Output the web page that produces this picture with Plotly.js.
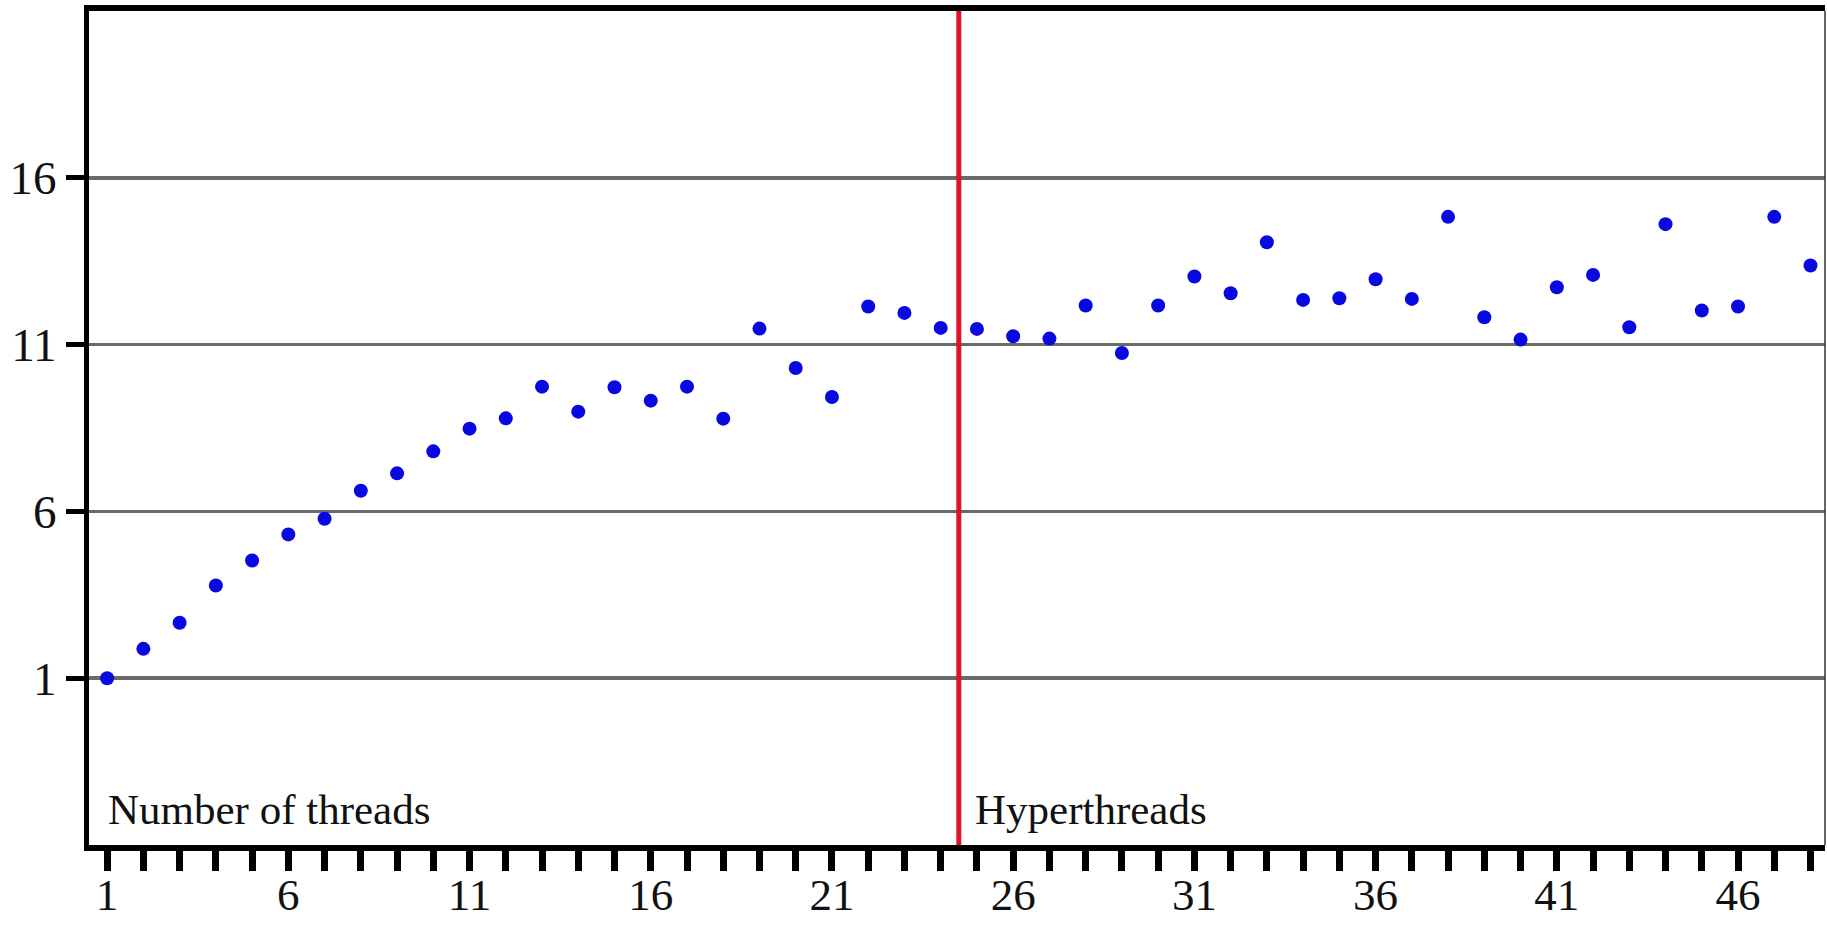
<!DOCTYPE html>
<html>
<head>
<meta charset="utf-8">
<script src="https://cdn.plot.ly/plotly-3.0.1.min.js"></script>
<style>
  html, body { margin: 0; padding: 0; background: #ffffff; }
  #chart { width: 1827px; height: 925px; }
</style>
</head>
<body>
<div id="chart"></div>
<script>
// ---- data ----
const threads = [1,2,3,4,5,6,7,8,9,10,11,12,13,14,15,16,17,18,19,20,21,22,23,24,
                 25,26,27,28,29,30,31,32,33,34,35,36,37,38,39,40,41,42,43,44,45,46,47,48];
const speedup = [1.0, 1.88, 2.66, 3.78, 4.53, 5.31, 5.78, 6.62, 7.14, 7.8,
                 8.48, 8.79, 9.74, 8.99, 9.72, 9.32, 9.74, 8.78, 11.48, 10.3,
                 9.43, 12.14, 11.95, 11.5, 11.47, 11.25, 11.18, 12.17, 10.75, 12.17,
                 13.04, 12.54, 14.07, 12.34, 12.39, 12.96, 12.37, 14.83, 11.82, 11.15,
                 12.72, 13.09, 11.52, 14.61, 12.02, 12.14, 14.83, 13.37];
const xTickVals = [1, 6, 11, 16, 21, 26, 31, 36, 41, 46];
const xTickText = ['1', '6', '11', '16', '21', '26', '31', '36', '41', '46'];
const yTickVals = [1, 6, 11, 16];
const yTickText = ['1', '6', '11', '16'];
const hyperthreadBoundary = 24.5;
const leftLabel = 'Number of threads';
const rightLabel = 'Hyperthreads';

const FONT = 'Liberation Serif, Times New Roman, serif';

const trace = {
  type: 'scatter',
  mode: 'markers',
  x: threads,
  y: speedup,
  marker: { color: '#0808e0', size: 14, line: { width: 0 } },
  hoverinfo: 'x+y',
  showlegend: false
};

const layout = {
  width: 1827,
  height: 925,
  margin: { l: 89, r: 2, t: 11, b: 80, pad: 0 },
  paper_bgcolor: '#ffffff',
  plot_bgcolor: '#ffffff',
  font: { family: FONT, color: '#111111', size: 46 },
  xaxis: {
    range: [0.5, 48.4],
    tickmode: 'array',
    tickvals: xTickVals,
    ticktext: xTickText,
    ticks: 'outside',
    ticklen: 20,
    tickwidth: 7,
    tickcolor: '#000000',
    ticklabelstandoff: -15,
    minor: {
      tickmode: 'array',
      tickvals: threads,
      ticks: 'outside',
      ticklen: 20,
      tickwidth: 7,
      tickcolor: '#000000',
      showgrid: false
    },
    tickfont: { family: FONT, size: 45, color: '#111111' },
    showline: true,
    linewidth: 6,
    linecolor: '#000000',
    mirror: true,
    showgrid: false,
    zeroline: false,
    fixedrange: true
  },
  yaxis: {
    range: [-4, 21],
    tickmode: 'array',
    tickvals: yTickVals,
    ticktext: yTickText,
    ticks: 'outside',
    ticklen: 18,
    tickwidth: 5,
    tickcolor: '#000000',
    tickfont: { family: FONT, size: 47, color: '#111111' },
    showline: true,
    linewidth: 5,
    linecolor: '#000000',
    showgrid: true,
    gridcolor: '#6a6a6a',
    gridwidth: 3.5,
    zeroline: false,
    fixedrange: true
  },
  shapes: [
    {
      type: 'line', xref: 'x', yref: 'paper',
      x0: hyperthreadBoundary, x1: hyperthreadBoundary, y0: 0, y1: 1,
      line: { color: '#e0102a', width: 5 }
    },
    {
      type: 'line', xref: 'paper', yref: 'paper',
      x0: 1, x1: 1, y0: 0, y1: 1,
      line: { color: '#333333', width: 1.5 }
    }
  ],
  annotations: [
    {
      text: leftLabel, xref: 'x', yref: 'y',
      x: 1, y: -2.95, xanchor: 'left', yanchor: 'middle',
      showarrow: false, borderpad: 0,
      font: { family: FONT, size: 43, color: '#111111' }
    },
    {
      text: rightLabel, xref: 'x', yref: 'y',
      x: hyperthreadBoundary + 0.42, y: -2.95, xanchor: 'left', yanchor: 'middle',
      showarrow: false, borderpad: 0,
      font: { family: FONT, size: 43, color: '#111111' }
    }
  ]
};

Plotly.newPlot('chart', [trace], layout, { displayModeBar: false, staticPlot: true });
</script>
</body>
</html>
